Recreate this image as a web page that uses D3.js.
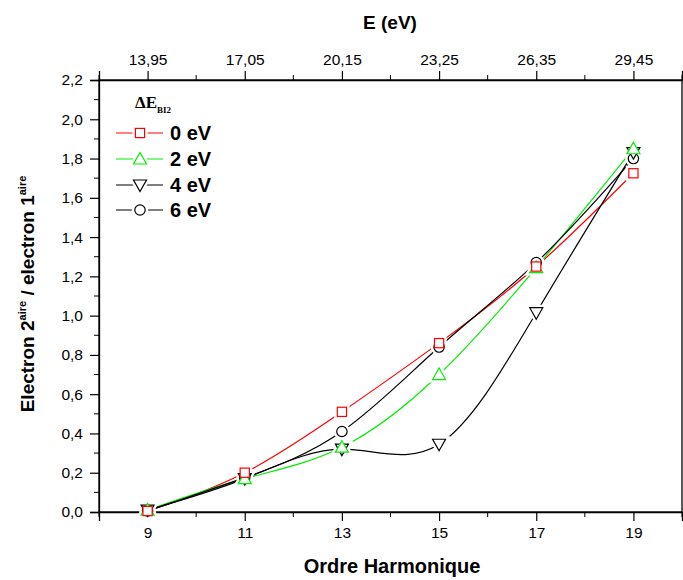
<!DOCTYPE html>
<html><head><meta charset="utf-8">
<script src="https://cdn.jsdelivr.net/npm/d3@7"></script>
<style>body{margin:0;background:#fff}svg{display:block}</style>
</head><body>
<svg id="c" width="683" height="580"></svg>
<script>
const harmonics = [9, 11, 13, 15, 17, 19];
const energyLabels = ["13,95", "17,05", "20,15", "23,25", "26,35", "29,45"];
const yTicks = [0, 0.2, 0.4, 0.6, 0.8, 1.0, 1.2, 1.4, 1.6, 1.8, 2.0, 2.2];
const seriesNames = ["0 eV", "2 eV", "4 eV", "6 eV"];
const values0 = [0.005, 0.20, 0.51, 0.86, 1.25, 1.725];
const values2 = [0.01, 0.17, 0.33, 0.70, 1.245, 1.85];
const values4 = [0.01, 0.17, 0.32, 0.345, 1.015, 1.83];
const values6 = [0.005, 0.175, 0.41, 0.84, 1.27, 1.80];
const seriesColors = ["#ff0000", "#00ee00", "#000000", "#000000"];
const seriesSymbols = ["square", "triangle", "triangleDown", "circle"];

const svg = d3.select("#c");
const L = 99, R = 682, T = 80, B = 512;
const x = d3.scaleLinear().domain([8, 20]).range([L, R]);
const y = d3.scaleLinear().domain([0, 2.2]).range([B, T]);
const font = "Arial, 'Liberation Sans', sans-serif";

// frame
svg.append("rect").attr("x", L).attr("y", T).attr("width", R - L).attr("height", B - T)
  .attr("fill", "none").attr("stroke", "#000").attr("stroke-width", 1.3);

// bottom axis
const bottomAx = svg.append("g").attr("transform", `translate(0,${B})`)
  .call(d3.axisBottom(x).tickValues(harmonics).tickSize(9).tickPadding(6).tickFormat(d3.format("d")));
bottomAx.append("g").selectAll("line").data(d3.range(8, 21, 2)).join("line")
  .attr("x1", d => x(d)).attr("x2", d => x(d)).attr("y1", 0).attr("y2", 5).attr("stroke", "#000");
// top axis
const topAx = svg.append("g").attr("transform", `translate(0,${T})`)
  .call(d3.axisTop(x).tickValues(harmonics).tickSize(9).tickPadding(6).tickFormat((d, i) => energyLabels[i]));
topAx.append("g").selectAll("line").data(d3.range(8, 21, 2)).join("line")
  .attr("x1", d => x(d)).attr("x2", d => x(d)).attr("y1", 0).attr("y2", -5).attr("stroke", "#000");
// left axis
const leftAx = svg.append("g").attr("transform", `translate(${L},0)`)
  .call(d3.axisLeft(y).tickValues(yTicks).tickSize(9).tickPadding(7).tickFormat(d => d3.format(".1f")(d).replace(".", ",")));
leftAx.append("g").selectAll("line").data(d3.range(0.1, 2.2, 0.2)).join("line")
  .attr("x1", 0).attr("x2", -5).attr("y1", d => y(d)).attr("y2", d => y(d)).attr("stroke", "#000");

[bottomAx, topAx, leftAx].forEach(g => {
  g.select(".domain").attr("stroke-width", 1.3);
  g.selectAll(".tick line").attr("stroke-width", 1.2);
  g.selectAll("text").attr("font-family", font).attr("font-size", 15.5).attr("fill", "#000");
});

// axis titles
svg.append("text").attr("x", 392).attr("y", 573).attr("text-anchor", "middle")
  .attr("font-family", font).attr("font-size", 20).attr("font-weight", "bold").text("Ordre Harmonique");
svg.append("text").attr("x", 390).attr("y", 29).attr("text-anchor", "middle")
  .attr("font-family", font).attr("font-size", 19).attr("font-weight", "bold").text("E (eV)");
const yt = svg.append("text").attr("transform", "translate(34,294) rotate(-90)").attr("text-anchor", "middle")
  .attr("font-family", font).attr("font-size", 19).attr("font-weight", "bold");
yt.append("tspan").text("Electron 2");
yt.append("tspan").attr("font-size", 11).attr("dy", -8).text("aire");
yt.append("tspan").attr("dy", 8).text(" / electron 1");
yt.append("tspan").attr("font-size", 11).attr("dy", -8).text("aire");

// symbols
function drawSymbol(g, type, cx, cy, color, halo) {
  const s = 4.6;
  let el;
  if (type === "square") {
    el = g.append("rect").attr("x", cx - s).attr("y", cy - s).attr("width", 2 * s).attr("height", 2 * s);
  } else if (type === "circle") {
    el = g.append("circle").attr("cx", cx).attr("cy", cy).attr("r", 5.2);
  } else if (type === "triangle") {
    el = g.append("path").attr("d", `M${cx},${cy - 6.5}L${cx + 6.5},${cy + 5}L${cx - 6.5},${cy + 5}Z`);
  } else {
    el = g.append("path").attr("d", `M${cx},${cy + 6.5}L${cx + 6.5},${cy - 5}L${cx - 6.5},${cy - 5}Z`);
  }
  if (halo) el.attr("fill", "#fff").attr("stroke", "#fff").attr("stroke-width", 6);
  else el.attr("fill", "#fff").attr("stroke", color).attr("stroke-width", 1.2);
}

const allSeries = [values0, values2, values4, values6];
const line = d3.line().x((d, i) => x(harmonics[i])).y(d => y(d)).curve(d3.curveNatural);
const plot = svg.append("g");
allSeries.forEach((vals, k) => {
  plot.append("path").datum(vals).attr("d", line).attr("fill", "none")
    .attr("stroke", seriesColors[k]).attr("stroke-width", 1.2);
});
const order = [3, 2, 1, 0];
order.forEach(k => {
  allSeries[k].forEach((v, i) => drawSymbol(plot, seriesSymbols[k], x(harmonics[i]), y(v), seriesColors[k], true));
});
order.forEach(k => {
  allSeries[k].forEach((v, i) => drawSymbol(plot, seriesSymbols[k], x(harmonics[i]), y(v), seriesColors[k], false));
});

// legend
const lg = svg.append("g");
const lt = lg.append("text").attr("x", 135).attr("y", 108).attr("font-family", "'Liberation Serif', 'Times New Roman', serif")
  .attr("font-size", 17).attr("font-weight", "bold");
lt.append("tspan").text("ΔE");
lt.append("tspan").attr("font-size", 9).attr("dy", 5).text("BI2");
const rowY = [133, 159, 185, 210];
seriesNames.forEach((name, k) => {
  const yy = rowY[k];
  lg.append("line").attr("x1", 116).attr("x2", 163).attr("y1", yy).attr("y2", yy)
    .attr("stroke", seriesColors[k]).attr("stroke-width", 1.2);
  drawSymbol(lg, seriesSymbols[k], 140, yy, seriesColors[k], true);
  drawSymbol(lg, seriesSymbols[k], 140, yy, seriesColors[k], false);
  lg.append("text").attr("x", 170).attr("y", yy + 7).attr("font-family", font)
    .attr("font-size", 20).attr("font-weight", "bold").text(name);
});
</script>
</body></html>
